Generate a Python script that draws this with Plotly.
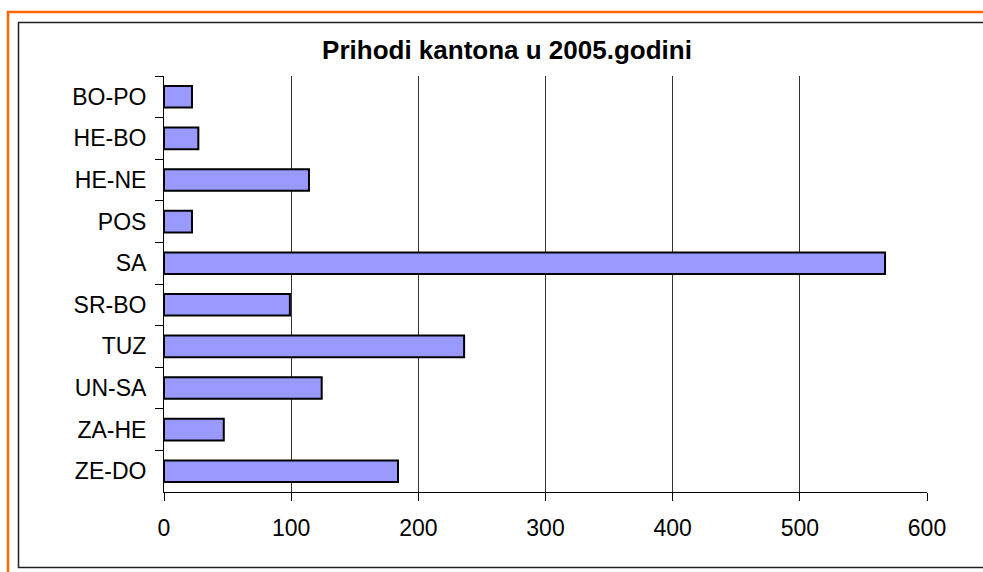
import plotly.graph_objects as go

# Prihodi po kantonima, 2005
kantoni = ["BO-PO", "HE-BO", "HE-NE", "POS", "SA", "SR-BO", "TUZ", "UN-SA", "ZA-HE", "ZE-DO"]
prihodi = [22, 27, 114, 22, 567, 99, 236, 124, 47, 184]
x_ticks = [0, 100, 200, 300, 400, 500, 600]

W, H = 983, 572
ML, MR, MT, MB = 164, 56, 76, 80
PW, PH = W - ML - MR, H - MT - MB


def px(x):
    return (x - ML) / PW


def py(y):
    return (H - MB - y) / PH


fig = go.Figure()
fig.add_trace(go.Bar(
    x=prihodi, y=kantoni, orientation="h",
    marker=dict(color="#9999FF", line=dict(color="black", width=2)),
))

fig.layout = go.Layout(
    width=W, height=H,
    margin=dict(l=ML, r=MR, t=MT, b=MB),
    paper_bgcolor="white", plot_bgcolor="white",
    font=dict(family="Liberation Sans, Arial", size=23, color="black"),
    showlegend=False,
    bargap=0.48,
    title=dict(text="<b>Prihodi kantona u 2005.godini</b>", font=dict(size=26),
               xref="container", x=507 / W, xanchor="center",
               yref="container", y=1 - 50 / H, yanchor="middle"),
    xaxis=dict(range=[0, 600], tickvals=x_ticks, showgrid=True, gridcolor="#333", gridwidth=1,
               showline=True, linecolor="black", linewidth=1,
               ticks="outside", ticklen=8, tickcolor="black", ticklabelstandoff=7,
               zeroline=False),
    yaxis=dict(categoryorder="array", categoryarray=kantoni, autorange="reversed",
               showgrid=False, showline=True, linecolor="black", linewidth=1,
               ticks="outside", ticklen=8, tickcolor="black", tickson="boundaries",
               ticklabelstandoff=12),
)

# outer orange frame and inner black chart border
fig.add_shape(type="rect", xref="paper", yref="paper",
              x0=px(8), x1=px(995), y0=py(585), y1=py(12),
              line=dict(color="#FF6600", width=2.5), fillcolor="rgba(0,0,0,0)", layer="below")
fig.add_shape(type="rect", xref="paper", yref="paper",
              x0=px(18.5), x1=px(995), y0=py(567.5), y1=py(22.5),
              line=dict(color="#222", width=1.5), fillcolor="rgba(0,0,0,0)", layer="below")

# the page adds an 8px body margin; drop it so the chart sits at the window origin
fig.write_html("out.html", config={"displayModeBar": False},
               post_script="document.body.style.margin='0';")
